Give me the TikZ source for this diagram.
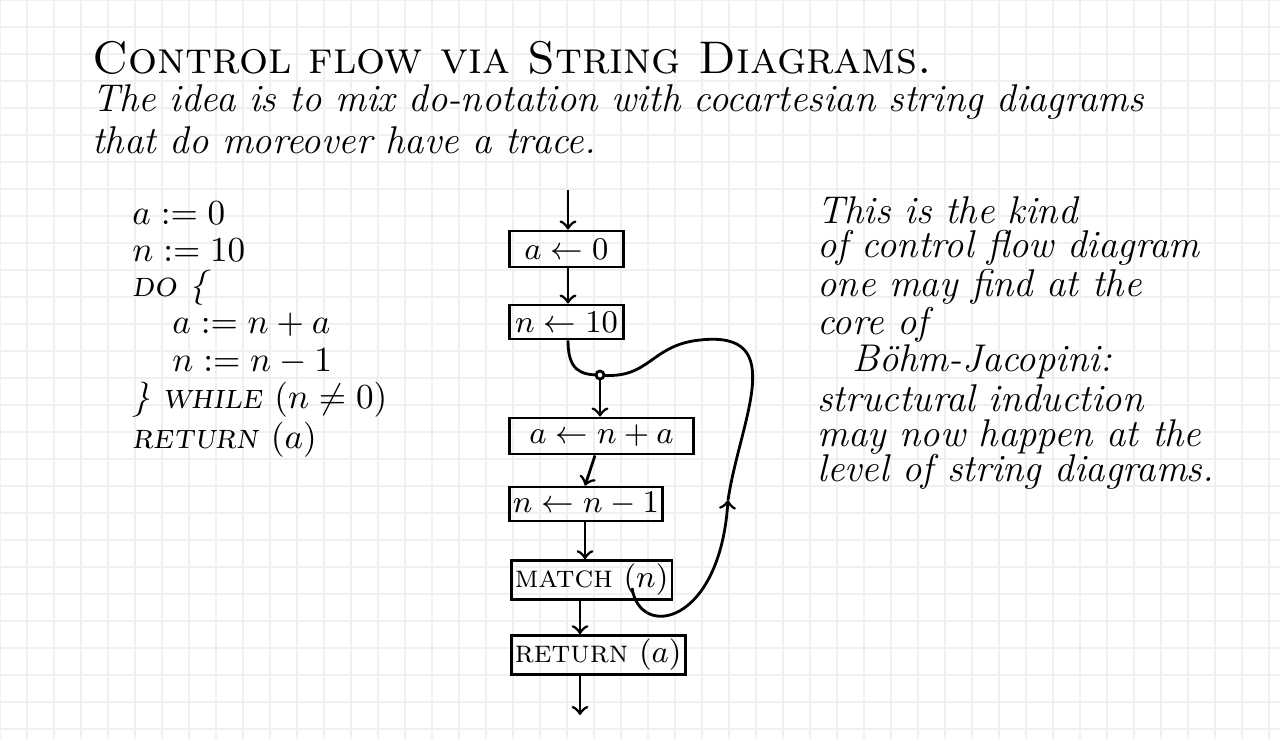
\documentclass[tikz,border=0pt]{standalone}
\usepackage{tikz}
\usetikzlibrary{calc}
\usepackage{amsmath}
\begin{document}
\begin{tikzpicture}[x=0.01cm,y=-0.01cm,
  box/.style={draw,thick,inner sep=1pt,anchor=west,font=\fontsize{9}{11}\selectfont},
  txt/.style={anchor=west,font=\fontsize{11}{13}\selectfont\itshape},
  code/.style={anchor=west,font=\fontsize{10}{12}\selectfont\itshape},
  flow/.style={thick,->}]
  \useasboundingbox (0,0) rectangle (1280,739);
  \fill[white] (0,0) rectangle (1280,739);
  \foreach \g in {0,27,...,1280} \draw[black!6] (\g,0) -- (\g,739);
  \foreach \g in {0,27,...,739} \draw[black!6] (0,\g) -- (1280,\g);
  % title and intro
  \node[txt,font=\fontsize{13}{15}\selectfont\scshape] (title) at (80,58) {Control flow via String Diagrams.};
  \node[txt] (l1) at (80,102) {The idea is to mix do-notation with cocartesian string diagrams};
  \node[txt] (l2) at (80,140) {that do moreover have a trace.};
  % program
  \node[code] (c1) at (120,213) {$a := 0$};
  \node[code] (c2) at (120,250) {$n := 10$};
  \node[code] (c3) at (120,288) {\textsc{do} \{};
  \node[code] (c4) at (160,325) {$a := n+a$};
  \node[code] (c5) at (160,362) {$n := n-1$};
  \node[code] (c6) at (120,400) {\} \textsc{while} $(n\neq 0)$};
  \node[code] (c7) at (120,440) {\textsc{return} $(a)$};
  % boxes
  \node[box,minimum width=1.14cm,minimum height=0.36cm] (b1) at (508,249) {$a \leftarrow 0$};
  \node[box,minimum width=1.14cm,minimum height=0.34cm] (b2) at (508,322) {$n \leftarrow 10$};
  \node[box,minimum width=1.84cm,minimum height=0.36cm] (b3) at (508,436) {$a \leftarrow n+a$};
  \node[box,minimum width=1.47cm,minimum height=0.34cm] (b4) at (508,504) {$n \leftarrow n-1$};
  \node[box,minimum width=1.55cm,minimum height=0.36cm] (b5) at (510,580) {\textsc{match} $(n)$};
  \node[box,minimum width=1.55cm,minimum height=0.38cm] (b6) at (510,655) {\textsc{return} $(a)$};
  \coordinate (in) at (568,190);
  \coordinate (out) at (580,715);
  \coordinate (j) at (600,375);
  \coordinate (xa) at (568,0);
  \coordinate (xb) at (595,0);
  \coordinate (xc) at (585,0);
  \coordinate (xd) at (580,0);
  \draw[flow] (in) -- (in |- b1.north);
  \draw[flow] (b1.south -| xa) -- (b2.north -| xa);
  \draw[thick] (b2.south -| xa) .. controls (568,370) and (580,375) .. (j);
  \draw[flow] (j) -- (b3.north -| j);
  \draw[flow] (b3.south -| xb) -- (b4.north -| xc);
  \draw[flow] (b4.south -| xc) -- (b5.north -| xc);
  \draw[flow] (b5.south -| xd) -- (b6.north -| xd);
  \draw[flow] (b6.south -| xd) -- (out);
  % trace loop
  \draw[thick,->] (632,588) .. controls (640,640) and (720,625) .. (728,500);
  \draw[thick] (728,500) .. controls (740,420) and (790,330) .. (700,340)
    .. controls (650,345) and (650,380) .. (j);
  \fill[white] (j) circle (4); \draw[thick] (j) circle (4);
  % comment
  \node[txt] (r1) at (805,210) {This is the kind};
  \node[txt] (r2) at (805,248) {of control flow diagram};
  \node[txt] (r3) at (805,287) {one may find at the};
  \node[txt] (r4) at (805,325) {core of};
  \node[txt] (r5) at (840,362) {Böhm-Jacopini:};
  \node[txt] (r6) at (805,398) {structural induction};
  \node[txt] (r7) at (805,437) {may now happen at the};
  \node[txt] (r8) at (805,472) {level of string diagrams.};
\end{tikzpicture}
\end{document}
